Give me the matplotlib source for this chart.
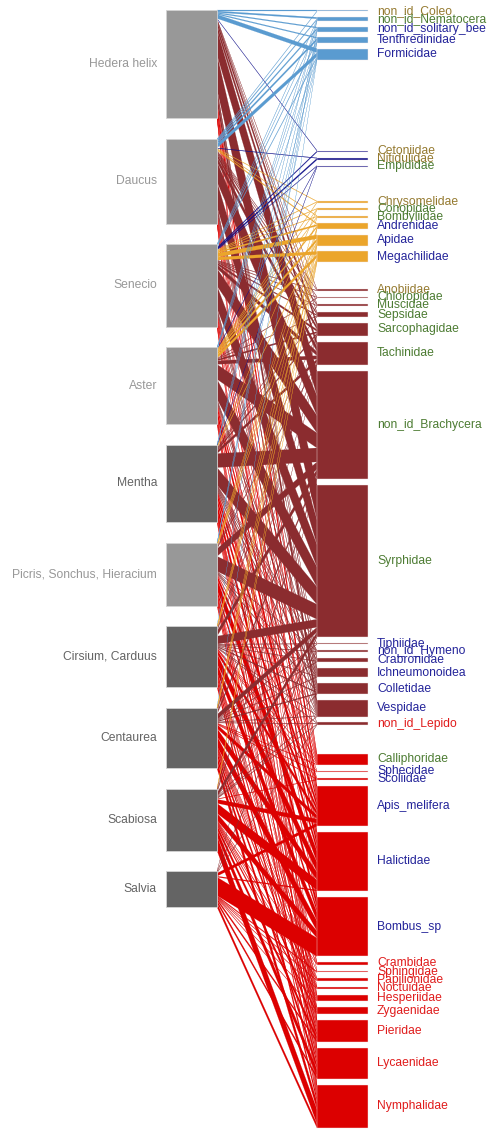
import numpy as np
import matplotlib.pyplot as plt
from matplotlib.patches import Polygon, Rectangle

plt.rcParams['font.family'] = ['Liberation Sans', 'DejaVu Sans']

# plants (lower level)
plants = ['Hedera helix', 'Daucus', 'Senecio', 'Aster', 'Mentha',
          'Picris, Sonchus, Hieracium', 'Cirsium, Carduus', 'Centaurea', 'Scabiosa', 'Salvia']
plant_shade = ['light', 'light', 'light', 'light', 'dark',
               'light', 'dark', 'dark', 'dark', 'dark']

# insect groups (upper level)
insects = ['non_id_Coleo', 'non_id_Nematocera', 'non_id_solitary_bee', 'Tenthredinidae', 'Formicidae',
           'Cetoniidae', 'Nitidulidae', 'Empididae',
           'Chrysomelidae', 'Conopidae', 'Bombyliidae', 'Andrenidae', 'Apidae', 'Megachilidae',
           'Anobiidae', 'Chloropidae', 'Muscidae', 'Sepsidae', 'Sarcophagidae', 'Tachinidae',
           'non_id_Brachycera', 'Syrphidae', 'Tiphiidae', 'non_id_Hymeno', 'Crabronidae',
           'Ichneumonoidea', 'Colletidae', 'Vespidae', 'non_id_Lepido',
           'Calliphoridae', 'Sphecidae', 'Scoliidae', 'Apis_melifera', 'Halictidae', 'Bombus_sp',
           'Crambidae', 'Sphingidae', 'Papilionidae', 'Noctuidae', 'Hesperiidae', 'Zygaenidae',
           'Pieridae', 'Lycaenidae', 'Nymphalidae']
insect_order = ['Col', 'Dip', 'Hym', 'Hym', 'Hym',
                'Col', 'Col', 'Dip',
                'Col', 'Dip', 'Dip', 'Hym', 'Hym', 'Hym',
                'Col', 'Dip', 'Dip', 'Dip', 'Dip', 'Dip',
                'Dip', 'Dip', 'Hym', 'Hym', 'Hym',
                'Hym', 'Hym', 'Hym', 'Lep',
                'Dip', 'Hym', 'Hym', 'Hym', 'Hym', 'Hym',
                'Lep', 'Lep', 'Lep', 'Lep', 'Lep', 'Lep',
                'Lep', 'Lep', 'Lep']
insect_module = [0] * 5 + [1] * 3 + [2] * 6 + [3] * 15 + [4] * 15

# visits of each plant, insects in the order above
hedera    = [2,3,2,2,8, 1,0,0, 0,0,0,0,0,0, 1,0,1,2,8,10,50,70,0,0,2,4,2,18,0, 6,0,0,14,4,2,0,0,0,0,0,0,1,2,3]
daucus    = [1,2,3,4,8, 0,1,0, 1,0,1,2,0,0, 1,1,2,3,6,10,40,50,0,0,2,4,3,4,0, 4,0,0,6,5,1,0,0,0,0,0,0,1,2,2]
senecio   = [0,1,1,2,2, 2,3,1, 1,1,1,3,8,6, 1,1,1,2,4,8,35,45,0,0,0,3,4,3,0, 3,0,0,5,8,2,0,0,0,0,0,0,2,3,4]
aster     = [0,1,1,1,1, 0,0,1, 1,1,1,3,5,6, 0,1,0,1,3,7,30,40,0,0,0,3,4,2,0, 3,0,0,8,12,4,0,0,0,0,1,0,3,4,6]
mentha    = [0,1,0,1,1, 0,0,1, 0,1,0,0,2,0, 0,0,1,1,3,6,28,35,1,1,2,2,3,2,1, 2,1,1,10,10,14,2,1,0,1,2,2,6,6,5]
picris    = [0,0,1,1,1, 0,0,0, 0,0,1,1,2,2, 0,0,0,0,1,2,15,30,0,1,0,1,2,1,0, 2,0,0,8,22,8,1,0,0,0,2,1,6,8,6]
cirsium   = [0,0,1,0,0, 0,0,0, 0,0,0,1,2,3, 0,0,0,0,1,2,10,16,1,1,1,1,2,1,1, 1,1,1,8,20,18,0,0,1,1,2,2,6,8,9]
centaurea = [0,0,0,0,1, 0,0,0, 0,0,0,1,2,3, 0,0,0,0,1,1,5,10,1,0,1,1,2,1,1, 1,1,1,8,16,20,1,1,1,1,3,4,8,10,15]
scabiosa  = [0,0,0,0,0, 0,0,0, 0,0,0,0,1,2, 0,0,0,0,0,1,4,8,0,1,0,0,1,1,1, 0,0,1,8,20,14,1,0,2,1,2,4,8,14,29]
salvia    = [0,0,0,0,0, 0,0,0, 0,0,0,0,0,0, 0,0,0,0,0,0,1,2,0,0,0,0,0,0,1, 0,0,0,6,2,37,0,2,1,1,1,1,4,5,8]

web = np.array([hedera, daucus, senecio, aster, mentha, picris, cirsium, centaurea, scabiosa, salvia], float)

# styles
shade_col = {'light': '#989898', 'dark': '#646464'}
order_col = {'Col': '#957a30', 'Dip': '#4d7c33', 'Hym': '#24249a', 'Lep': '#e01c1c'}
module_col = ['#5a9bd0', '#10108a', '#eba52b', '#8b2c2f', '#dc0000']

# layout (pixel units)
top, low_bottom = 10, 907
low_gap, high_gap = 20.7, 5.8
module_gap = [91, 34, 27, 29]
xl0, xl1 = 166, 217
xh0, xh1 = 317, 368

n_p, n_i = web.shape
scale = (low_bottom - top - (n_p - 1) * low_gap) / web.sum()

plant_h = web.sum(1) * scale
plant_y = top + np.concatenate([[0], np.cumsum(plant_h[:-1] + low_gap)])

ins_h = web.sum(0) * scale
ins_y = np.zeros(n_i)
y = top
for j in range(n_i):
    if j > 0:
        if insect_module[j] != insect_module[j - 1]:
            y += module_gap[insect_module[j - 1]]
        else:
            y += high_gap
    ins_y[j] = y
    y += ins_h[j]

# where each link starts on the plant box and ends on the insect box
p_off = plant_y[:, None] + np.cumsum(web * scale, axis=1) - web * scale
i_off = ins_y[None, :] + np.cumsum(web * scale, axis=0) - web * scale

fig = plt.figure(figsize=(4.9, 11.3), dpi=100)
ax = fig.add_axes([0, 0, 1, 1])
ax.set_xlim(0, 490)
ax.set_ylim(1130, 0)
ax.axis('off')

for i in range(n_p):
    for j in range(n_i):
        if web[i, j] <= 0:
            continue
        h = web[i, j] * scale
        p0, q0 = p_off[i, j], i_off[i, j]
        c = module_col[insect_module[j]]
        ax.add_patch(Polygon([(xl1, p0), (xh0, q0), (xh0, q0 + h), (xl1, p0 + h)],
                             closed=True, fc=c, ec=c, lw=0.12, zorder=2))

for i in range(n_p):
    c = shade_col[plant_shade[i]]
    ax.add_patch(Rectangle((xl0, plant_y[i]), xl1 - xl0, plant_h[i],
                           fc=c, ec='#d4d4d4', lw=0.6, zorder=3))
    ax.text(xl0 - 9, plant_y[i] + plant_h[i] / 2, plants[i], ha='right', va='center',
            fontsize=8.7, color=c)

for j in range(n_i):
    c = module_col[insect_module[j]]
    ax.add_patch(Rectangle((xh0, ins_y[j]), xh1 - xh0, ins_h[j],
                           fc=c, ec='#f4e8e8', lw=0.3, zorder=3))
    ax.text(xh1 + 9, ins_y[j] + ins_h[j] / 2, insects[j], ha='left', va='center',
            fontsize=8.7, color=order_col[insect_order[j]])

fig.savefig('out.png', dpi=100)
